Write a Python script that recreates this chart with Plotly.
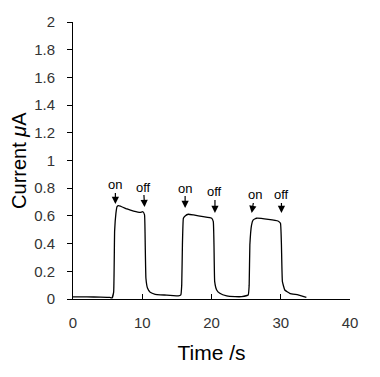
import plotly.graph_objects as go

time_s = [0, 2, 4, 5.3, 5.64, 5.87, 6.01, 6.2, 6.36, 6.59, 7.8, 8.75, 9.71, 10.1,
          10.33, 10.43, 10.53, 10.77, 11.15, 11.87, 12.6, 13.55, 14.5, 15.2, 15.57,
          15.7, 15.8, 15.94, 16.19, 16.66, 17.4, 18.8, 20.03, 20.26, 20.36, 20.46,
          20.75, 21.2, 22.2, 23.4, 24.35, 25.3, 25.44, 25.54, 25.78, 26.0, 26.5,
          28.2, 29.6, 29.96, 30.1, 30.24, 30.58, 31.3, 32.5, 33.7]
current_uA = [0.015, 0.015, 0.014, 0.012, 0.008, 0.05, 0.49, 0.62, 0.667, 0.674, 0.65,
              0.635, 0.626, 0.63, 0.607, 0.39, 0.15, 0.077, 0.048, 0.034, 0.03, 0.028,
              0.024, 0.022, 0.029, 0.10, 0.39, 0.583, 0.60, 0.612, 0.607, 0.594, 0.583,
              0.558, 0.39, 0.125, 0.065, 0.041, 0.022, 0.017, 0.017, 0.029, 0.10, 0.39,
              0.534, 0.57, 0.583, 0.575, 0.563, 0.547, 0.39, 0.125, 0.065, 0.041, 0.029,
              0.011]

marker_labels = ["on", "off", "on", "off", "on", "off"]
marker_t = [6.12, 10.33, 16.19, 20.5, 25.8, 30.1]
marker_i = [0.686, 0.664, 0.657, 0.621, 0.621, 0.621]
marker_ax = [0, -1, 0, 0, 3, 0]
marker_ay = [-19, -20, -20, -21, -18, -18]

x_ticks = [0, 10, 20, 30, 40]
y_ticks = [0, 0.2, 0.4, 0.6, 0.8, 1, 1.2, 1.4, 1.6, 1.8, 2]

fig = go.Figure()
fig.add_trace(go.Scatter(x=time_s, y=current_uA, mode="lines",
                         line=dict(color="black", width=1.3, shape="spline", smoothing=0.3),
                         showlegend=False, hoverinfo="skip"))

for lab, t, c, ax, ay in zip(marker_labels, marker_t, marker_i, marker_ax, marker_ay):
    fig.add_annotation(x=t, y=c, text=lab, showarrow=True, arrowhead=2, arrowsize=1.2,
                       arrowwidth=1.2, arrowcolor="black", ax=ax, ay=ay,
                       font=dict(family="Liberation Sans, Arial", size=13, color="black"),
                       borderpad=0)

axis_font = dict(family="Liberation Sans, Arial", size=15, color="#333")
title_font = dict(family="Liberation Sans, Arial", size=21, color="black")

# y-axis title as a rotated paper-anchored label
fig.add_annotation(text="Current <i>μ</i>A", xref="paper", yref="paper",
                   x=-0.195, y=0.502, xanchor="center", yanchor="middle",
                   textangle=-90, showarrow=False, borderpad=0,
                   font=dict(family="Liberation Sans, Arial", size=20, color="black"))

fig.update_layout(
    width=372, height=369,
    margin=dict(l=64.5, r=29.5, t=14, b=78, autoexpand=False),
    paper_bgcolor="white", plot_bgcolor="white",
    xaxis=dict(range=[0, 40], tickvals=x_ticks, showgrid=False, zeroline=False,
               showline=True, linecolor="black", linewidth=1, ticks="inside",
               ticklen=5, tickcolor="black", tickfont=axis_font,
               ticklabelstandoff=10, automargin=False,
               title=dict(text="Time /s", standoff=15, font=title_font)),
    yaxis=dict(range=[0, 2], tickvals=y_ticks, showgrid=False, zeroline=False,
               showline=True, linecolor="black", linewidth=1, ticks="outside",
               ticklen=5, tickcolor="black", tickfont=axis_font,
               ticklabelstandoff=9, automargin=False),
)
fig.write_html("out.html")
